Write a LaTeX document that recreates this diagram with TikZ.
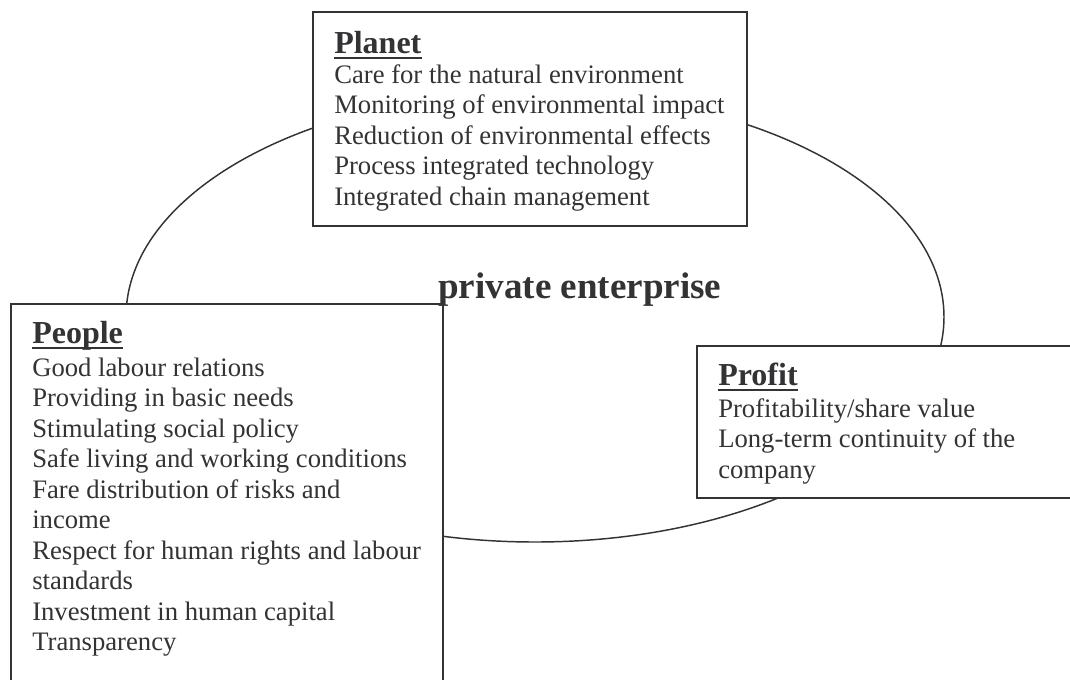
\documentclass[tikz,border=0pt]{standalone}
\usepackage{fontspec}
\setmainfont{Liberation Serif}
\usetikzlibrary{shapes.geometric}
\definecolor{ink}{RGB}{51,51,54}
\begin{document}
\begin{tikzpicture}[x=0.75pt,y=-0.75pt,
  box/.style={draw=ink,line width=1.5pt,fill=white,anchor=north west,inner sep=0pt,outer sep=0pt},
  head/.style={anchor=base west,inner sep=0pt,text=ink,font=\fontsize{24}{28}\selectfont\bfseries},
  body/.style={anchor=base west,inner sep=0pt,text=ink,font=\fontsize{20}{22.9}\selectfont},
  titletext/.style={anchor=base west,inner sep=0pt,text=ink,font=\fontsize{27.8}{32}\selectfont\bfseries},
  uline/.style={draw=ink,line width=2.2pt}]
\useasboundingbox (0,0) rectangle (1070,679);
\clip (0,0) rectangle (1070,679);
% ellipse
\node[draw=ink,line width=1.1pt,ellipse,minimum width=613.5pt,minimum height=337.5pt,inner sep=0pt] (ring) at (535,317) {};
% boxes
\node[box,minimum width=325.5pt,minimum height=160.5pt] (planetbox) at (313,12) {};
\node[box,minimum width=324pt,minimum height=315pt] (peoplebox) at (11,304) {};
\node[box,minimum width=300pt,minimum height=114pt] (profitbox) at (697,346) {};
% Planet
\node[head] (planeth) at (334,53) {Planet};
\draw[uline] ([yshift=-3.75pt]planeth.base west) -- ([yshift=-3.75pt]planeth.base east);
\node[body] (planett) at (334,83) {\begin{tabular}[t]{@{}l@{}}
Care for the natural environment\\
Monitoring of environmental impact\\
Reduction of environmental effects\\
Process integrated technology\\
Integrated chain management\end{tabular}};
% People
\node[head] (peopleh) at (32,343) {People};
\draw[uline] ([yshift=-3.75pt]peopleh.base west) -- ([yshift=-3.75pt]peopleh.base east);
\node[body] (peoplet) at (32,376) {\begin{tabular}[t]{@{}l@{}}
Good labour relations\\
Providing in basic needs\\
Stimulating social policy\\
Safe living and working conditions\\
Fare distribution of risks and\\
income\\
Respect for human rights and labour\\
standards\\
Investment in human capital\\
Transparency\end{tabular}};
% Profit
\node[head] (profith) at (718,385) {Profit};
\draw[uline] ([yshift=-3.75pt]profith.base west) -- ([yshift=-3.75pt]profith.base east);
\node[body] (profitt) at (718,417) {\begin{tabular}[t]{@{}l@{}}
Profitability/share value\\
Long-term continuity of the\\
company\end{tabular}};
% title
\node[titletext] (ent) at (438,298) {private enterprise};
\end{tikzpicture}
\end{document}
